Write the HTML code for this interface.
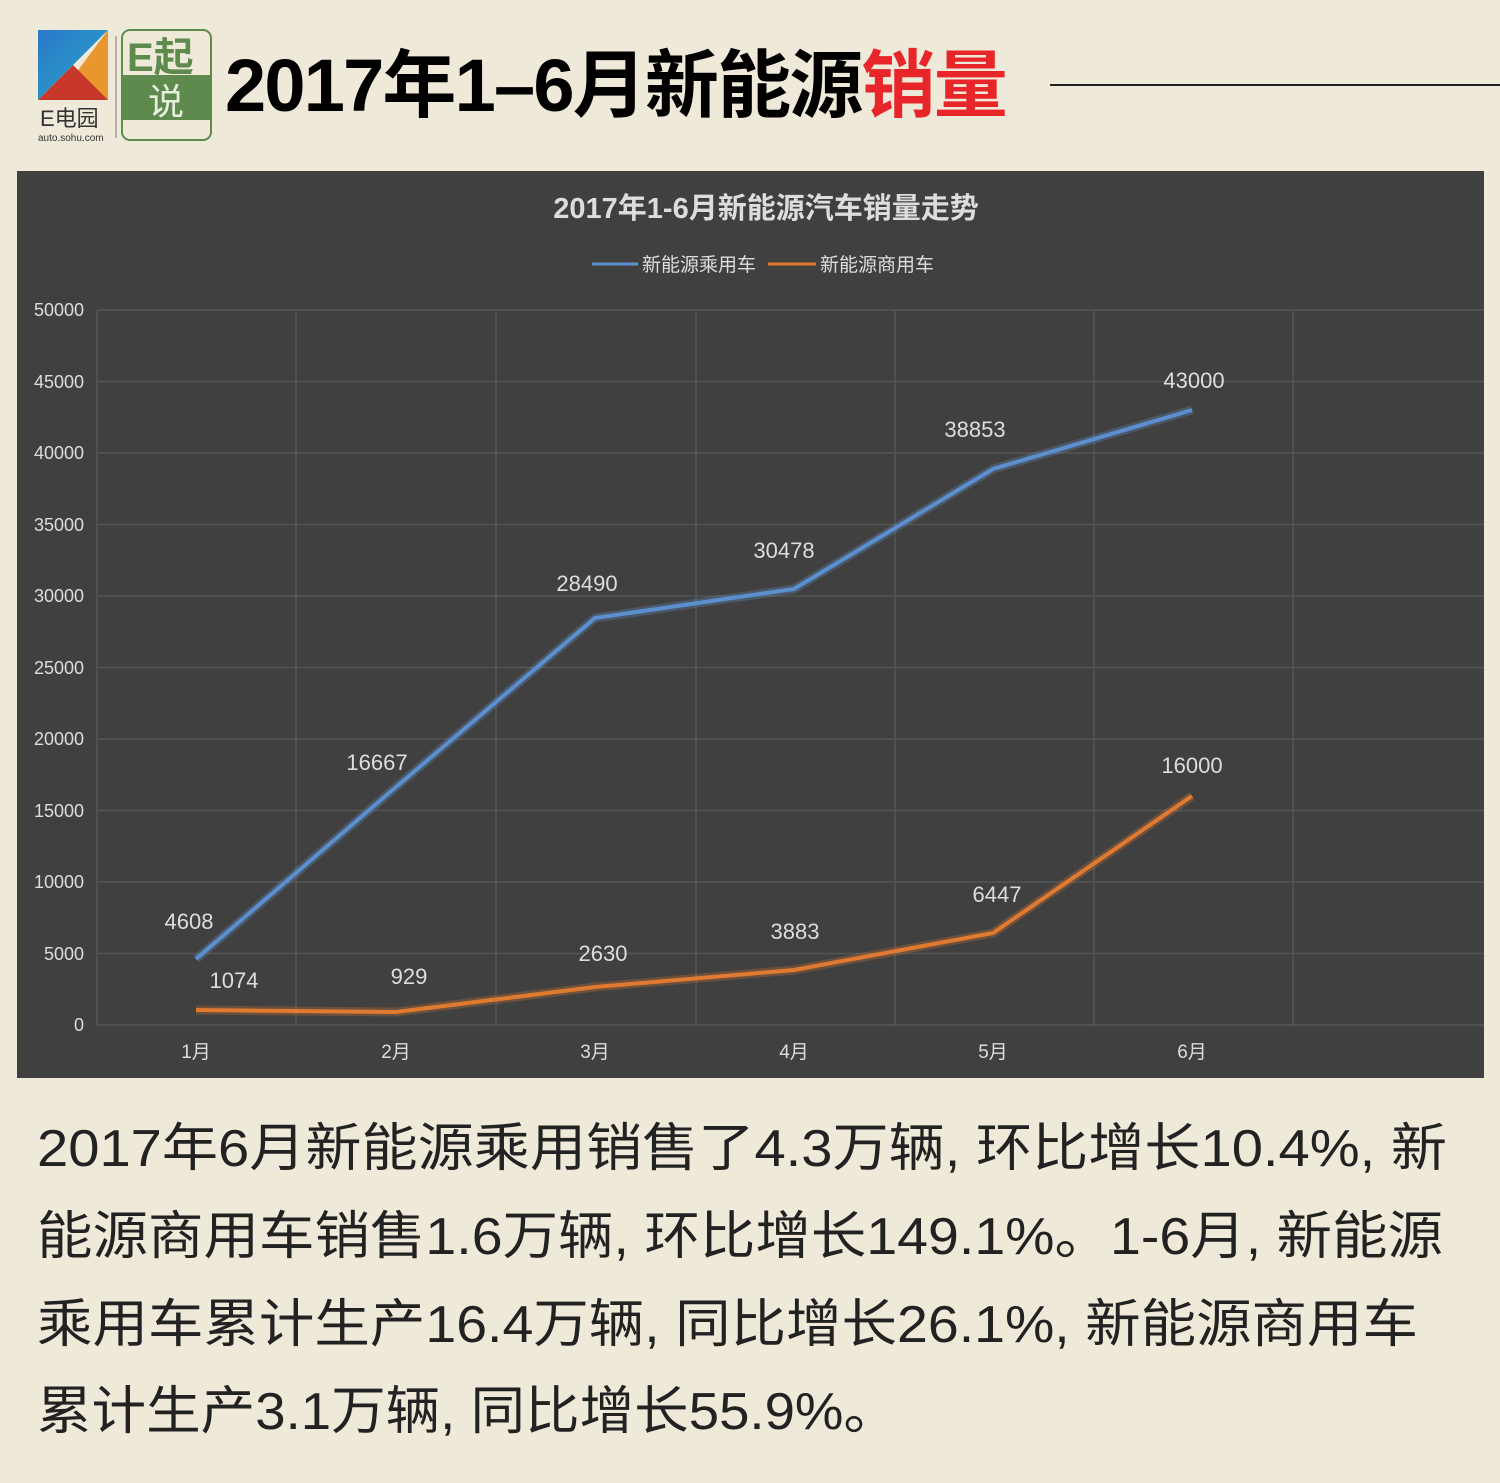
<!DOCTYPE html>
<html><head><meta charset="utf-8"><style>
body{margin:0;width:1500px;height:1483px;background:#efe9da;position:relative;overflow:hidden;font-family:"Liberation Sans","Noto Sans CJK SC",sans-serif}
.t{position:absolute;left:225px;top:38px;font-size:74px;font-weight:bold;letter-spacing:-1.8px;line-height:96px;white-space:nowrap}
</style></head><body>
<svg style="position:absolute;left:0;top:0" width="1500" height="170">
<defs><linearGradient id="g1" x1="0" y1="0" x2="1" y2="1"><stop offset="0" stop-color="#2a78c8"/><stop offset="1" stop-color="#2aa8c8"/></linearGradient></defs>
<path d="M38 30 H108 L38 100 Z" fill="url(#g1)"/>
<path d="M108 30 V100 H96 L73 77 Z" fill="#e8962e"/>
<path d="M38 100 L73 65 L108 100 Z" fill="#c8382a"/>
<text x="40" y="126" font-size="22" fill="#333">E电园</text>
<text x="38" y="141" font-size="10" fill="#333">auto.sohu.com</text>
<line x1="116" y1="36" x2="116" y2="138" stroke="#777"/>
<rect x="122" y="30" width="89" height="110" rx="8" fill="#efe9da" stroke="#5e8a4e" stroke-width="2"/>
<rect x="123" y="75" width="87" height="45" fill="#5e8a4e"/>
<text x="127" y="71" font-size="40" font-weight="bold" fill="#5e8a4e">E起</text>
<text x="148" y="114" font-size="36" fill="#e8efe0">说</text>
<line x1="1050" y1="85" x2="1500" y2="85" stroke="#222" stroke-width="2"/>
</svg>
<div class="t">2017年1–6月新能源<span style="color:#e8262a">销量</span></div>
<svg style="position:absolute;left:17px;top:171px" width="1467" height="907" viewBox="17 171 1467 907" font-family="Liberation Sans, Noto Sans CJK SC, sans-serif">
<rect x="17" y="171" width="1467" height="907" fill="#404040"/>
<g stroke="#555" stroke-width="1.5">
<line x1="97" y1="310" x2="1484" y2="310"/><line x1="97" y1="381.5" x2="1484" y2="381.5"/><line x1="97" y1="453" x2="1484" y2="453"/><line x1="97" y1="524.5" x2="1484" y2="524.5"/><line x1="97" y1="596" x2="1484" y2="596"/><line x1="97" y1="667.5" x2="1484" y2="667.5"/><line x1="97" y1="739" x2="1484" y2="739"/><line x1="97" y1="810.5" x2="1484" y2="810.5"/><line x1="97" y1="882" x2="1484" y2="882"/><line x1="97" y1="953.5" x2="1484" y2="953.5"/><line x1="97" y1="1025" x2="1484" y2="1025"/>
<line x1="97" y1="310" x2="97" y2="1025"/><line x1="296" y1="310" x2="296" y2="1025"/><line x1="496" y1="310" x2="496" y2="1025"/><line x1="696" y1="310" x2="696" y2="1025"/><line x1="895" y1="310" x2="895" y2="1025"/><line x1="1094" y1="310" x2="1094" y2="1025"/><line x1="1293" y1="310" x2="1293" y2="1025"/>
</g>
<g fill="#ddd" font-size="18" text-anchor="end">
<text x="84" y="316">50000</text><text x="84" y="388">45000</text><text x="84" y="459">40000</text><text x="84" y="531">35000</text><text x="84" y="602">30000</text><text x="84" y="674">25000</text><text x="84" y="745">20000</text><text x="84" y="817">15000</text><text x="84" y="888">10000</text><text x="84" y="960">5000</text><text x="84" y="1031">0</text>
</g>
<g fill="#ddd" font-size="19" text-anchor="middle">
<text x="196" y="1058">1月</text><text x="396" y="1058">2月</text><text x="595" y="1058">3月</text><text x="794" y="1058">4月</text><text x="993" y="1058">5月</text><text x="1192" y="1058">6月</text>
</g>
<text x="766" y="218" font-size="29" font-weight="bold" fill="#ddd" text-anchor="middle">2017年1-6月新能源汽车销量走势</text>
<line x1="592" y1="264" x2="638" y2="264" stroke="#5b8fd0" stroke-width="3"/>
<text x="642" y="271" font-size="19" fill="#ddd">新能源乘用车</text>
<line x1="768" y1="264" x2="816" y2="264" stroke="#e07a30" stroke-width="3"/>
<text x="820" y="271" font-size="19" fill="#ddd">新能源商用车</text>
<polyline points="196,959 396,787 595,618 794,589 993,469 1192,410" fill="none" stroke="#6a9ee0" stroke-width="9" opacity="0.25"/>
<polyline points="196,959 396,787 595,618 794,589 993,469 1192,410" fill="none" stroke="#5b8fd0" stroke-width="4"/>
<polyline points="196,1010 396,1012 595,987 794,970 993,933 1192,796" fill="none" stroke="#f08030" stroke-width="9" opacity="0.25"/>
<polyline points="196,1010 396,1012 595,987 794,970 993,933 1192,796" fill="none" stroke="#e07a30" stroke-width="4"/>
<g fill="#ddd" font-size="22" text-anchor="middle">
<text x="189" y="929">4608</text><text x="377" y="770">16667</text><text x="587" y="591">28490</text><text x="784" y="558">30478</text><text x="975" y="437">38853</text><text x="1194" y="388">43000</text>
<text x="234" y="988">1074</text><text x="409" y="984">929</text><text x="603" y="961">2630</text><text x="795" y="939">3883</text><text x="997" y="902">6447</text><text x="1192" y="773">16000</text>
</g>
</svg>
<svg style="position:absolute;left:0;top:1090px" width="1500" height="393" viewBox="0 1090 1500 393" font-family="Liberation Sans, Noto Sans CJK SC, sans-serif" font-size="52" fill="#222">
<text x="37" y="1166" textLength="1410" lengthAdjust="spacingAndGlyphs">2017年6月新能源乘用销售了4.3万辆, 环比增长10.4%, 新</text>
<text x="37" y="1254" textLength="1406" lengthAdjust="spacingAndGlyphs">能源商用车销售1.6万辆, 环比增长149.1%。1-6月, 新能源</text>
<text x="37" y="1342" textLength="1381" lengthAdjust="spacingAndGlyphs">乘用车累计生产16.4万辆, 同比增长26.1%, 新能源商用车</text>
<text x="37" y="1429" textLength="861" lengthAdjust="spacingAndGlyphs">累计生产3.1万辆, 同比增长55.9%。</text>
</svg>
</body></html>
